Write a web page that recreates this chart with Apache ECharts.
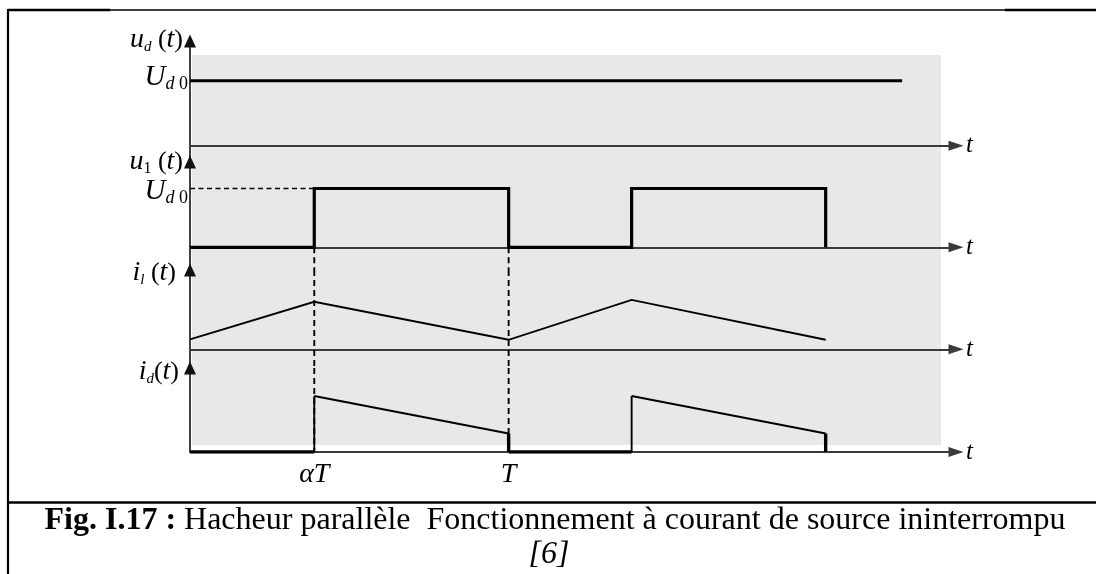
<!DOCTYPE html>
<html><head><meta charset="utf-8">
<script src="https://cdn.jsdelivr.net/npm/echarts@6/dist/echarts.min.js"></script>
<style>html,body{margin:0;padding:0;background:#fff}#c{width:1096px;height:574px}</style>
</head><body><div id="c"></div>
<script>
// time expressed in units of the period T
const tickValues = [0.39, 1.0];
const tickLabels = ['αT', 'T'];
// u_d(t): constant source voltage U_d0 (=1)
const udWave = [[0, 1], [2.235, 1]];
// u_1(t): square wave 0 / U_d0
const u1Wave = [[0, 0], [0.39, 0], [0.39, 1], [1.0, 1], [1.0, 0], [1.386, 0], [1.386, 1], [1.995, 1], [1.995, 0]];
// i_l(t): triangular inductor current
const ilWave = [[0, 0.21], [0.39, 1.0], [1.0, 0.2], [1.386, 1.04], [1.995, 0.2]];
// i_d(t): diode current
const idWave = [[0, 0], [0.39, 0], [0.39, 1], [1.0, 0.33], [1.0, 0], [1.386, 0], [1.386, 1], [1.995, 0.33], [1.995, 0]];
const ud0Level = 1;
const axisNames = [
  '{v|u}{s|d}{p| (}{v|t}{p|)}',
  '{v|u}{n|1}{p| (}{v|t}{p|)}',
  '{v|i}{s|l}{p| (}{v|t}{p|)}',
  '{v|i}{s|d}{p|(}{v|t}{p|)}'
];
const levelLabel = '{U|U}{s|d}{n| 0}';
const captionBold = 'Fig. I.17 :';
const captionText = ' Hacheur parallèle  Fonctionnement à courant de source ininterrompu';
const captionRef = '[6]';

const SERIF = '"Liberation Serif", "Times New Roman", serif';
const xMax = 2.404;
const grids = [
  {left: 190, top: 41, width: 766, height: 121},
  {left: 190, top: 162, width: 766, height: 108},
  {left: 190, top: 270, width: 766, height: 98},
  {left: 190, top: 368, width: 766, height: 84}
];
const yRanges = [[-0.251, 1.611], [-0.386, 1.451], [-0.394, 1.669], [0, 1.5]];
const namePads = [[0, 7, 0, 0], [0, 7, 0, 0], [0, 14, 0, 0], [0, 11, 0, 0]];
const nameGaps = [1, 0, -3, -4];
const levelPads = [[0, 0, 6, 0], [6, 0, 0, 0]];

const richName = {
  v: {fontFamily: SERIF, fontStyle: 'italic', fontSize: 28, color: '#000', lineHeight: 30},
  p: {fontFamily: SERIF, fontSize: 26, color: '#000', lineHeight: 30},
  s: {fontFamily: SERIF, fontStyle: 'italic', fontSize: 15, color: '#000', lineHeight: 14, verticalAlign: 'bottom'},
  n: {fontFamily: SERIF, fontSize: 16, color: '#000', lineHeight: 14, verticalAlign: 'bottom'}
};
const richLevel = {
  U: {fontFamily: SERIF, fontStyle: 'italic', fontSize: 29, color: '#000', lineHeight: 32},
  s: {fontFamily: SERIF, fontStyle: 'italic', fontSize: 18, color: '#000', lineHeight: 14, verticalAlign: 'bottom'},
  n: {fontFamily: SERIF, fontSize: 18, color: '#000', lineHeight: 14, verticalAlign: 'bottom'}
};

const xAxes = grids.map((g, i) => ({
  type: 'value', gridIndex: i, min: 0, max: xMax,
  splitLine: {show: false}, axisTick: {show: false},
  axisLine: {onZero: true, symbol: ['none', 'triangle'], symbolSize: [10, 15], lineStyle: {color: '#3a3a3a', width: 1.8}},
  axisLabel: i === 3 ? {
    show: true, customValues: tickValues, margin: 9,
    fontFamily: SERIF, fontStyle: 'italic', fontSize: 28, color: '#000',
    formatter: function (v) {
      let best = 0;
      tickValues.forEach((t, k) => { if (Math.abs(t - v) < Math.abs(tickValues[best] - v)) best = k; });
      return tickLabels[best];
    }
  } : {show: false},
  name: 't', nameLocation: 'end', nameGap: 10, nameMoveOverlap: false,
  nameTextStyle: {fontFamily: SERIF, fontStyle: 'italic', fontSize: 25, color: '#000', verticalAlign: 'middle', padding: [0, 0, 8, 0]}
}));

const yAxes = grids.map((g, i) => ({
  type: 'value', gridIndex: i, min: yRanges[i][0], max: yRanges[i][1],
  splitLine: {show: false}, axisTick: {show: false},
  axisLine: {onZero: true, symbol: ['none', 'triangle'], symbolSize: [12, 13], lineStyle: {color: '#111', width: 1.6}},
  axisLabel: i < 2 ? {
    show: true, customValues: [ud0Level], margin: 2,
    formatter: () => levelLabel, rich: richLevel, padding: levelPads[i]
  } : {show: false},
  name: axisNames[i], nameLocation: 'end', nameGap: nameGaps[i], nameMoveOverlap: false,
  nameTextStyle: {align: 'right', verticalAlign: 'middle', padding: namePads[i], rich: richName}
}));

function line(data, gi, width, dash, z) {
  return {
    type: 'line', xAxisIndex: gi, yAxisIndex: gi, data: data, symbol: 'none',
    silent: true, animation: false, z: z || 3,
    lineStyle: {color: '#000', width: width, type: dash || 'solid', cap: 'butt', join: 'miter'}
  };
}

const series = [];
// dashed reference lines
series.push(line([[0, ud0Level], [tickValues[0], ud0Level]], 1, 1.6, [5, 3.5], 2));
tickValues.forEach(tv => {
  series.push(line([[tv, 0], [tv, yRanges[1][0]]], 1, 1.9, [6, 4], 2));
  series.push(line([[tv, yRanges[2][1]], [tv, yRanges[2][0]]], 2, 1.9, [6, 4], 2));
  series.push(line([[tv, yRanges[3][1]], [tv, 0]], 3, 1.9, [6, 4], 2));
});
series.push(line(udWave, 0, 3, null, 4));
series.push(line(u1Wave, 1, 3.2, null, 4));
series.push(line(ilWave, 2, 1.9, null, 4));
// i_d: thick for zero parts and drops, thin for rises and slopes
for (let k = 0; k < idWave.length - 1; k++) {
  const a = idWave[k], b = idWave[k + 1];
  const thick = (a[1] === 0 && b[1] === 0) || (a[0] === b[0] && b[1] < a[1]);
  series.push(line([a, b], 3, thick ? 3.4 : 1.9, null, thick ? 5 : 4));
}

const chart = echarts.init(document.getElementById('c'), null, {renderer: 'canvas'});
chart.setOption({
  animation: false,
  backgroundColor: '#fff',
  grid: grids,
  xAxis: xAxes,
  yAxis: yAxes,
  series: series,
  graphic: [
    {type: 'rect', z: -10, silent: true, shape: {x: 192, y: 55, width: 749, height: 390}, style: {fill: '#e8e8e8'}},
    {type: 'line', silent: true, shape: {x1: 8, y1: 10, x2: 1096, y2: 10}, style: {stroke: '#000', lineWidth: 1.4}},
    {type: 'line', silent: true, shape: {x1: 8, y1: 10, x2: 110, y2: 10}, style: {stroke: '#000', lineWidth: 2.4}},
    {type: 'line', silent: true, shape: {x1: 1005, y1: 10, x2: 1096, y2: 10}, style: {stroke: '#000', lineWidth: 2.4}},
    {type: 'line', silent: true, shape: {x1: 8, y1: 9, x2: 8, y2: 574}, style: {stroke: '#000', lineWidth: 2.2}},
    {type: 'line', silent: true, shape: {x1: 8, y1: 502.5, x2: 1096, y2: 502.5}, style: {stroke: '#000', lineWidth: 2.6}},
    {type: 'text', silent: true, x: 555, y: 521,
      style: {text: '{b|' + captionBold + '}' + captionText, align: 'center', verticalAlign: 'middle',
        textAlign: 'center', textVerticalAlign: 'middle',
        fontFamily: SERIF, fontSize: 32, fill: '#000',
        rich: {b: {fontFamily: SERIF, fontSize: 32, fontWeight: 'bold', fill: '#000'}}}},
    {type: 'text', silent: true, x: 549, y: 555,
      style: {text: captionRef, align: 'center', verticalAlign: 'middle', textAlign: 'center', textVerticalAlign: 'middle',
        fontFamily: SERIF, fontStyle: 'italic', fontSize: 32, fill: '#000'}}
  ]
});
</script></body></html>
